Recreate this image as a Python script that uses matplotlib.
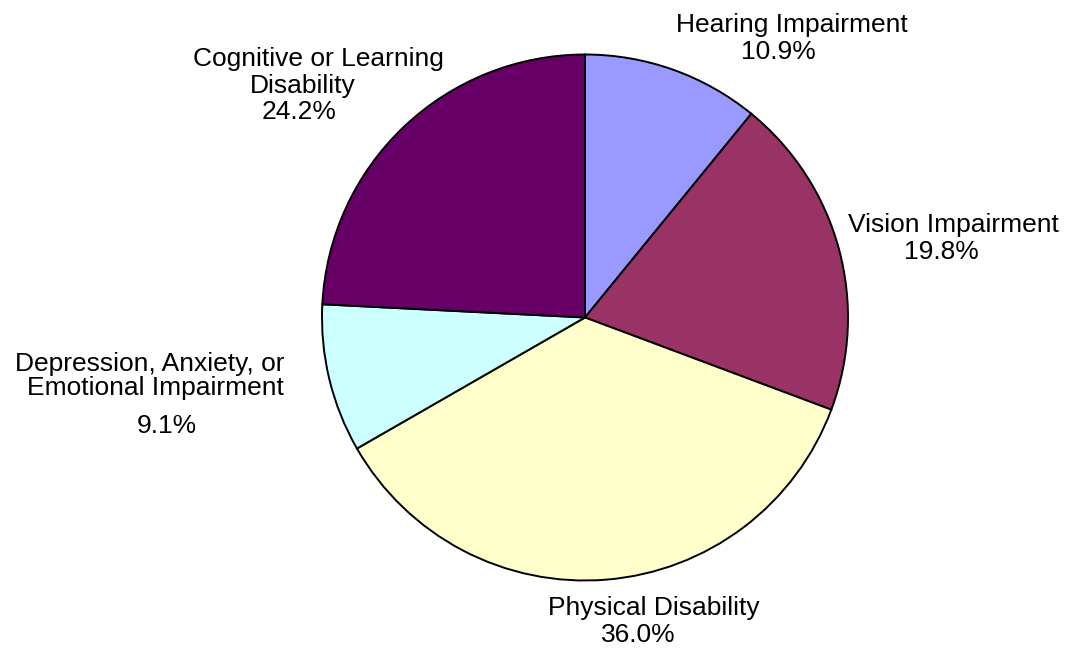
import matplotlib
matplotlib.use("Agg")
import matplotlib.pyplot as plt

categories = ["Hearing Impairment", "Vision Impairment", "Physical Disability",
              "Depression, Anxiety, or Emotional Impairment", "Cognitive or Learning Disability"]
values = [10.9, 19.8, 36.0, 9.1, 24.2]
colors = ["#9999FF", "#993366", "#FFFFCC", "#CCFFFF", "#660066"]
label_lines = [
    ["Hearing Impairment", "10.9%"],
    ["Vision Impairment", "19.8%"],
    ["Physical Disability", "36.0%"],
    ["Depression, Anxiety, or", "Emotional Impairment", "9.1%"],
    ["Cognitive or Learning", "Disability", "24.2%"],
]
# pixel positions (x center, baseline y) of each label line
label_pos = [
    [(792, 32), (778, 59)],
    [(953, 232), (941, 259)],
    [(654, 615), (638, 642)],
    [(150, 371), (155, 395), (167, 433)],
    [(318, 66), (303, 93), (299, 119)],
]

W, H = 1065, 648
fig = plt.figure(figsize=(W / 100, H / 100), dpi=100)
cx, cy, r = 585, 317.5, 263
ax = fig.add_axes([(cx - r) / W, (H - cy - r) / H, 2 * r / W, 2 * r / H])
ax.pie(values, colors=colors, startangle=90, counterclock=False, radius=1,
       wedgeprops=dict(edgecolor="black", linewidth=1.4))
ax.set_xlim(-1, 1)
ax.set_ylim(-1, 1)
ax.set_aspect("auto")
ax.axis("off")

for lines, poss in zip(label_lines, label_pos):
    for txt, (px, py) in zip(lines, poss):
        fig.text(px / W, 1 - py / H, txt, ha="center", va="baseline",
                 fontsize=19, family="Liberation Sans", color="black")

fig.savefig("out.png", dpi=100, facecolor="white")
